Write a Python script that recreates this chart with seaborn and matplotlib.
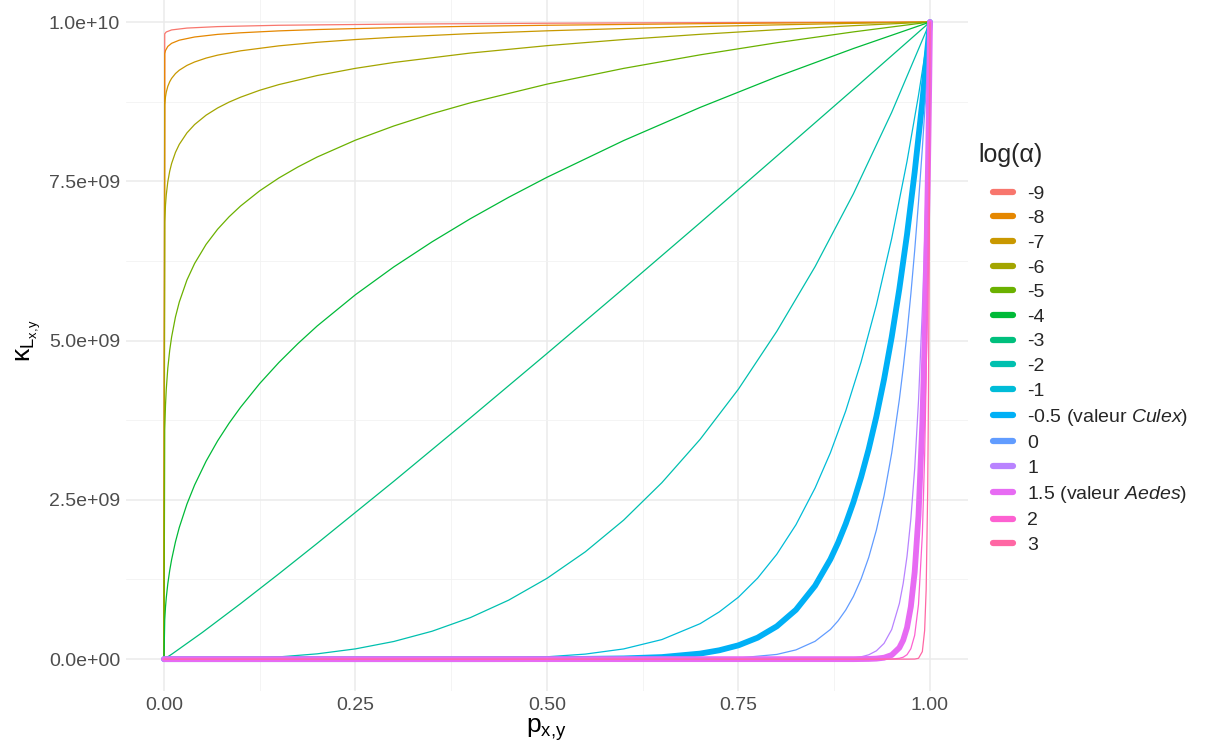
import pandas as pd
import seaborn as sns
import matplotlib.pyplot as plt
from matplotlib.lines import Line2D

# kappa, as a fraction of K_MAX; each curve has its own p points
K_MAX = 1e10

p_m9 = [0, 0.001, 0.003, 0.01, 0.03, 0.07, 0.15, 0.3, 0.5, 0.75, 1.0]
k_m9 = [0, 0.9815, 0.9844, 0.9876, 0.9905, 0.9928, 0.9949, 0.9967, 0.9981, 0.9992, 1.0]

p_m8 = [0, 0.001, 0.002, 0.005, 0.01, 0.02, 0.04, 0.07, 0.1, 0.15, 0.2, 0.3, 0.4, 0.5, 0.7, 0.85, 1.0]
k_m8 = [0, 0.9503, 0.9552, 0.9617, 0.9666, 0.9715, 0.9765, 0.9806, 0.9831, 0.9861, 0.9882, 0.9912,
        0.9933, 0.9949, 0.9974, 0.9988, 1.0]

p_m7 = [0, 0.001, 0.002, 0.003, 0.005, 0.0075, 0.01, 0.015, 0.02, 0.03, 0.04, 0.055, 0.07, 0.1,
        0.15, 0.2, 0.25, 0.3, 0.4, 0.5, 0.6, 0.7, 0.8, 0.9, 1.0]
k_m7 = [0, 0.8703, 0.8826, 0.8898, 0.899, 0.9063, 0.9116, 0.9191, 0.9244, 0.9319, 0.9373, 0.9434,
        0.948, 0.9548, 0.9626, 0.9682, 0.9725, 0.9761, 0.9818, 0.9862, 0.9898, 0.9928, 0.9955,
        0.9979, 1.0]

p_m6 = [0, 0.001, 0.002, 0.003, 0.005, 0.0075, 0.01, 0.015, 0.02, 0.03, 0.04, 0.055, 0.07, 0.085,
        0.1, 0.125, 0.15, 0.2, 0.25, 0.3, 0.4, 0.5, 0.6, 0.7, 0.8, 0.9, 1.0]
k_m6 = [0, 0.6863, 0.7127, 0.7286, 0.7492, 0.7659, 0.778, 0.7954, 0.808, 0.826, 0.8391, 0.8538,
        0.8651, 0.8743, 0.882, 0.8929, 0.9018, 0.916, 0.9273, 0.9365, 0.9513, 0.9629, 0.9725,
        0.9807, 0.9879, 0.9943, 1.0]

p_m5 = [0, 0.001, 0.002, 0.003, 0.005, 0.0075, 0.01, 0.015, 0.02, 0.03, 0.04, 0.055, 0.07, 0.085,
        0.1, 0.125, 0.15, 0.175, 0.2, 0.25, 0.3, 0.35, 0.4, 0.5, 0.6, 0.7, 0.8, 0.9, 1.0]
k_m5 = [0, 0.3597, 0.3986, 0.4233, 0.4566, 0.4848, 0.5058, 0.5371, 0.5605, 0.5951, 0.621, 0.651,
        0.6747, 0.6943, 0.7112, 0.7351, 0.7552, 0.7726, 0.7881, 0.8146, 0.8368, 0.8561, 0.8732,
        0.9025, 0.9272, 0.9485, 0.9675, 0.9845, 1.0]

p_m4 = [0, 0.001, 0.002, 0.003, 0.005, 0.0075, 0.01, 0.015, 0.02, 0.03, 0.04, 0.055, 0.07, 0.085,
        0.1, 0.125, 0.15, 0.175, 0.2, 0.25, 0.3, 0.35, 0.4, 0.45, 0.5, 0.6, 0.7, 0.8, 0.9, 1.0]
k_m4 = [0, 0.0618, 0.0817, 0.0962, 0.1182, 0.1392, 0.1563, 0.1841, 0.2067, 0.2434, 0.2733, 0.3107,
        0.3425, 0.3703, 0.3953, 0.4326, 0.4656, 0.4954, 0.5229, 0.572, 0.6156, 0.655, 0.6913,
        0.7249, 0.7563, 0.8139, 0.866, 0.914, 0.9584, 1.0]

p_m3 = [0, 0.01, 0.05, 0.1, 0.15, 0.2, 0.3, 0.4, 0.5, 0.6, 0.7, 0.8, 0.9, 1.0]
k_m3 = [0, 0.0076, 0.0418, 0.0871, 0.1339, 0.1817, 0.2791, 0.3787, 0.4797, 0.5818, 0.685, 0.7895,
        0.8943, 1.0]

p_m2 = [0, 0.05, 0.1, 0.15, 0.2, 0.25, 0.3, 0.35, 0.4, 0.45, 0.5, 0.55, 0.6, 0.65, 0.7, 0.75, 0.8,
        0.85, 0.9, 0.95, 1.0]
k_m2 = [0, 0.0001, 0.0011, 0.0035, 0.0083, 0.0161, 0.0277, 0.0438, 0.0652, 0.0926, 0.1268, 0.1684,
        0.2181, 0.277, 0.3451, 0.4239, 0.5145, 0.6161, 0.7304, 0.8582, 1.0]

p_m1 = [0, 0.2, 0.3, 0.4, 0.45, 0.5, 0.55, 0.6, 0.65, 0.7, 0.725, 0.75, 0.775, 0.8, 0.825, 0.85,
        0.87, 0.89, 0.91, 0.93, 0.95, 0.97, 0.985, 1.0]
k_m1 = [0, 0, 0.0001, 0.0006, 0.0016, 0.0037, 0.0079, 0.016, 0.0307, 0.0557, 0.0742, 0.0973,
        0.1272, 0.1646, 0.2109, 0.2686, 0.324, 0.3896, 0.4663, 0.5558, 0.6603, 0.7813, 0.885, 1.0]

p_m05 = [0, 0.4, 0.5, 0.55, 0.6, 0.65, 0.7, 0.725, 0.75, 0.775, 0.8, 0.825, 0.85, 0.87, 0.88, 0.89,
         0.9, 0.91, 0.92, 0.93, 0.94, 0.95, 0.96, 0.97, 0.98, 0.99, 1.0]
k_m05 = [0, 0, 0.0001, 0.0004, 0.0011, 0.0032, 0.0087, 0.0139, 0.0217, 0.0337, 0.0515, 0.0774,
         0.1152, 0.1568, 0.1827, 0.2124, 0.2462, 0.2853, 0.3298, 0.3808, 0.439, 0.5055, 0.5812,
         0.6665, 0.7644, 0.8749, 1.0]

p_z0 = [0, 0.6, 0.7, 0.75, 0.8, 0.825, 0.85, 0.87, 0.88, 0.89, 0.9, 0.91, 0.92, 0.93, 0.94, 0.95,
        0.96, 0.965, 0.97, 0.975, 0.98, 0.985, 0.99, 0.995, 1.0]
k_z0 = [0, 0, 0.0004, 0.0018, 0.0074, 0.0145, 0.028, 0.0466, 0.0601, 0.0771, 0.0984, 0.1256,
        0.1596, 0.2025, 0.2562, 0.3235, 0.4075, 0.4567, 0.5112, 0.5729, 0.6412, 0.7173, 0.8016,
        0.8956, 1.0]

p_p1 = [0, 0.85, 0.88, 0.9, 0.91, 0.92, 0.93, 0.94, 0.95, 0.96, 0.965, 0.97, 0.975, 0.98, 0.985,
        0.99, 0.993, 0.995, 0.997, 0.999, 1.0]
k_p1 = [0, 0.0001, 0.0005, 0.0018, 0.0036, 0.0068, 0.013, 0.0247, 0.0465, 0.0872, 0.1188, 0.1614,
        0.22, 0.2988, 0.4054, 0.5483, 0.657, 0.7411, 0.8355, 0.9419, 1.0]

p_p15 = [0, 0.9, 0.92, 0.93, 0.94, 0.95, 0.96, 0.965, 0.97, 0.975, 0.98, 0.985, 0.99, 0.993, 0.995,
         0.997, 0.998, 0.999, 1.0]
k_p15 = [0, 0, 0.0003, 0.0008, 0.0022, 0.0064, 0.0179, 0.0298, 0.0494, 0.0824, 0.1365, 0.2256,
         0.3712, 0.5002, 0.6102, 0.7436, 0.821, 0.9061, 1.0]

p_p2 = [0, 0.94, 0.95, 0.96, 0.965, 0.97, 0.975, 0.98, 0.985, 0.99, 0.993, 0.995, 0.997, 0.998,
        0.999, 1.0]
k_p2 = [0, 0, 0.0002, 0.0013, 0.003, 0.007, 0.0163, 0.0374, 0.0859, 0.1951, 0.3191, 0.4428, 0.6135,
        0.7224, 0.8498, 1.0]

p_p3 = [0, 0.97, 0.98, 0.985, 0.99, 0.993, 0.995, 0.997, 0.998, 0.999, 1.0]
k_p3 = [0, 0, 0.0001, 0.0013, 0.0118, 0.0449, 0.1093, 0.265, 0.4132, 0.6427, 1.0]

levels = ['-9', '-8', '-7', '-6', '-5', '-4', '-3', '-2', '-1', '-0.5', '0', '1', '1.5', '2', '3']
labels = ['-9', '-8', '-7', '-6', '-5', '-4', '-3', '-2', '-1',
          '-0.5 (valeur $\\it{Culex}$)', '0', '1', '1.5 (valeur $\\it{Aedes}$)', '2', '3']
curves = [(p_m9, k_m9), (p_m8, k_m8), (p_m7, k_m7), (p_m6, k_m6), (p_m5, k_m5), (p_m4, k_m4),
          (p_m3, k_m3), (p_m2, k_m2), (p_m1, k_m1), (p_m05, k_m05), (p_z0, k_z0), (p_p1, k_p1),
          (p_p15, k_p15), (p_p2, k_p2), (p_p3, k_p3)]
colors = ['#F8766D', '#E58700', '#C99800', '#A3A500', '#6BB100', '#00BA38', '#00BF7D',
          '#00C0AF', '#00BCD8', '#00B0F6', '#619CFF', '#B983FF', '#E76BF3', '#FD61D1', '#FF67A4']
widths = {lev: (4.2 if lev in ('-0.5', '1.5') else 0.9) for lev in levels}

rows = []
for lev, (ps, ks) in zip(levels, curves):
    for p, k in zip(ps, ks):
        rows.append((p, k * K_MAX, lev))
df = pd.DataFrame(rows, columns=['p', 'kappa', 'alpha'])

sns.set_theme(style='white')
plt.rcParams['font.family'] = ['Liberation Sans', 'DejaVu Sans']
plt.rcParams['mathtext.fontset'] = 'custom'
plt.rcParams['mathtext.rm'] = 'Liberation Sans'
plt.rcParams['mathtext.it'] = 'Liberation Sans:italic'
plt.rcParams['mathtext.bf'] = 'Liberation Sans:bold'

fig = plt.figure(figsize=(12.06, 7.45), dpi=100)
ax = fig.add_axes([0.1042, 0.0725, 0.6987, 0.9407])

sns.lineplot(data=df, x='p', y='kappa', hue='alpha', hue_order=levels,
             palette=dict(zip(levels, colors)), size='alpha', size_order=levels,
             sizes=widths, estimator=None, sort=False, legend=False, ax=ax)

ax.set_xlim(-0.05, 1.05)
ax.set_ylim(-0.05 * K_MAX, 1.05 * K_MAX)
ax.set_xticks([0, 0.25, 0.5, 0.75, 1.0])
ax.set_xticklabels(['0.00', '0.25', '0.50', '0.75', '1.00'])
ax.set_xticks([0.125, 0.375, 0.625, 0.875], minor=True)
yt = [0, 2.5e9, 5e9, 7.5e9, 1e10]
ax.set_yticks(yt)
ax.set_yticklabels([f'{v:.1e}' for v in yt])
ax.set_yticks([1.25e9, 3.75e9, 6.25e9, 8.75e9], minor=True)
ax.grid(which='major', color='#EBEBEB', linewidth=1.1)
ax.grid(which='minor', color='#F2F2F2', linewidth=0.6)
ax.set_axisbelow(True)
for s in ax.spines.values():
    s.set_visible(False)
ax.tick_params(which='both', length=0, labelsize=14, labelcolor='#4D4D4D', pad=4)

ax.set_xlabel(r'$\mathregular{p_{x,\!y}}$', fontsize=19, color='black', labelpad=2)
ax.set_ylabel(r'$\mathregular{\kappa_{L_{x,\!y}}}$', fontsize=19, color='black', labelpad=4)

handles = [Line2D([0], [0], color=c, lw=4.5) for c in colors]
leg = ax.legend(handles, labels, loc='upper left', bbox_to_anchor=(0.8234, 0.7516),
                bbox_transform=fig.transFigure, frameon=False, fontsize=14,
                handlelength=1.05, handletextpad=0.72, labelspacing=0.36,
                borderpad=0, borderaxespad=0)
fig.text(0.811, 0.792, 'log(α)', fontsize=18, va='center', ha='left')

fig.savefig('out.png', dpi=100)
